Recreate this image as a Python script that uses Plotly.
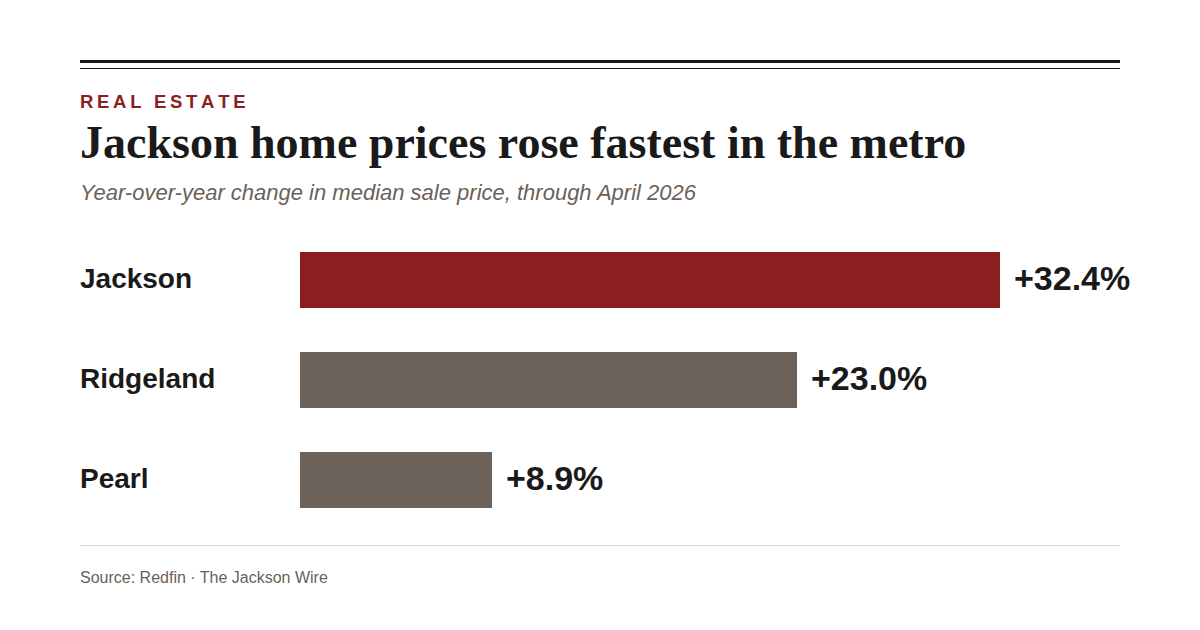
import plotly.graph_objects as go

# ---- data ----
cities = ["Jackson", "Ridgeland", "Pearl"]
changes = [32.4, 23.0, 8.9]
value_labels = ["+32.4%", "+23.0%", "+8.9%"]
bar_colors = ["#8b1e1e", "#6b6158", "#6b6158"]

kicker = "REAL ESTATE"
title = "Jackson home prices rose fastest in the metro"
subtitle = "Year-over-year change in median sale price, through April 2026"
source = "Source: Redfin · The Jackson Wire"

W, H = 1200, 630
L, R, T, B = 300, 80, 230, 100
PW = W - L - R
PH = H - T - B


def px_x(p):
    return (p - L) / PW


def px_y(p):
    return (H - B - p) / PH


SANS = "Liberation Sans, Arial, sans-serif"
SERIF = "Liberation Serif, Times New Roman, serif"
DARK = "#1a1a1a"
GRAY = "#6b6158"

fig = go.Figure()
fig.add_trace(go.Bar(
    x=changes, y=cities, orientation="h",
    marker=dict(color=bar_colors, line=dict(width=0)),
    width=0.56, hoverinfo="skip",
))

annotations = []
for c, v, lab in zip(cities, changes, value_labels):
    annotations.append(dict(
        x=v, y=c, xref="x", yref="y", text=lab, showarrow=False,
        xanchor="left", yanchor="middle", xshift=12, yshift=2,
        font=dict(family=SANS, size=34, color=DARK, weight="bold"),
    ))
    annotations.append(dict(
        x=px_x(80), y=c, xref="paper", yref="y", text=c, showarrow=False,
        xanchor="left", yanchor="middle", xshift=-2, yshift=2,
        font=dict(family=SANS, size=28, color=DARK, weight="bold"),
    ))

spaced_kicker = "\u2009".join(list(kicker))
annotations += [
    dict(x=px_x(80), y=px_y(101), xref="paper", yref="paper", text=spaced_kicker,
         showarrow=False, xanchor="left", yanchor="middle", xshift=-2,
         font=dict(family=SANS, size=18.5, color="#8b1e1e", weight="bold")),
    dict(x=px_x(80), y=px_y(142), xref="paper", yref="paper", text="<b>" + title + "</b>",
         showarrow=False, xanchor="left", yanchor="middle", xshift=-2,
         font=dict(family=SERIF, size=46, color=DARK)),
    dict(x=px_x(80), y=px_y(192), xref="paper", yref="paper", text="<i>" + subtitle + "</i>",
         showarrow=False, xanchor="left", yanchor="middle", xshift=-2,
         font=dict(family=SANS, size=22, color=GRAY)),
    dict(x=px_x(80), y=px_y(577), xref="paper", yref="paper", text=source,
         showarrow=False, xanchor="left", yanchor="middle", xshift=-2,
         font=dict(family=SANS, size=16, color=GRAY)),
]

shapes = [
    dict(type="line", xref="paper", yref="paper", x0=px_x(80), x1=px_x(1120),
         y0=px_y(61.5), y1=px_y(61.5), line=dict(color=DARK, width=3)),
    dict(type="line", xref="paper", yref="paper", x0=px_x(80), x1=px_x(1120),
         y0=px_y(68.5), y1=px_y(68.5), line=dict(color=DARK, width=1)),
    dict(type="line", xref="paper", yref="paper", x0=px_x(80), x1=px_x(1120),
         y0=px_y(545.5), y1=px_y(545.5), line=dict(color="#ddd6cc", width=1)),
]

fig.update_layout(
    width=W, height=H,
    margin=dict(l=L, r=R, t=T, b=B, pad=0),
    paper_bgcolor="white", plot_bgcolor="white",
    showlegend=False,
    xaxis=dict(range=[0, 32.4 * PW / 700], visible=False, fixedrange=True),
    yaxis=dict(range=[2.5, -0.5], visible=False, fixedrange=True, type="category"),
    annotations=annotations, shapes=shapes,
    bargap=0,
)

fig.write_html("out.html", config={"displayModeBar": False})
